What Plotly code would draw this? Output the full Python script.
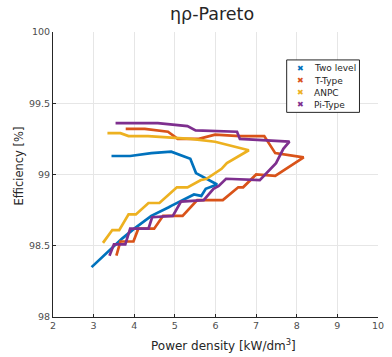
import plotly.graph_objects as go

# Data
two_level_x = [2.95, 3.3, 3.7, 4.0, 4.42, 4.85, 4.91, 5.47, 5.65, 5.76, 6.04, 5.52, 5.38, 4.91, 4.42, 3.90, 3.44]
two_level_y = [98.35, 98.44, 98.55, 98.62, 98.71, 98.77, 98.78, 98.86, 98.85, 98.90, 98.93, 99.01, 99.11, 99.16, 99.15, 99.13, 99.13]

t_type_x = [3.56, 3.66, 3.98, 4.10, 4.49, 4.71, 5.19, 5.55, 6.18, 6.56, 6.68, 7.00, 7.47, 8.17, 7.47, 7.20, 6.60, 5.99, 5.59, 5.07, 4.83, 4.26, 3.79]
t_type_y = [98.43, 98.53, 98.53, 98.62, 98.62, 98.71, 98.71, 98.82, 98.82, 98.91, 98.91, 99.00, 98.99, 99.12, 99.15, 99.27, 99.27, 99.28, 99.25, 99.25, 99.30, 99.32, 99.32]

anpc_x = [3.23, 3.46, 3.63, 3.86, 4.04, 4.35, 4.62, 5.05, 5.31, 5.63, 5.78, 6.15, 6.28, 6.82, 5.99, 5.39, 4.34, 3.86, 3.66, 3.34]
anpc_y = [98.52, 98.61, 98.61, 98.72, 98.72, 98.80, 98.80, 98.91, 98.91, 98.96, 98.97, 99.04, 99.08, 99.17, 99.23, 99.25, 99.27, 99.27, 99.29, 99.29]

pi_type_x = [3.39, 3.50, 3.78, 3.90, 4.35, 4.44, 4.95, 5.15, 5.71, 5.95, 6.08, 6.26, 7.09, 7.49, 7.67, 7.82, 6.60, 6.53, 5.51, 5.31, 4.58, 3.54]
pi_type_y = [98.43, 98.51, 98.51, 98.62, 98.62, 98.70, 98.71, 98.81, 98.82, 98.90, 98.92, 98.97, 98.96, 99.08, 99.18, 99.23, 99.25, 99.30, 99.31, 99.34, 99.36, 99.36]

names = ["Two level", "T-Type", "ANPC", "Pi-Type"]
colors = ["#0072BD", "#D95319", "#EDB120", "#7E2F8E"]
xs = [two_level_x, t_type_x, anpc_x, pi_type_x]
ys = [two_level_y, t_type_y, anpc_y, pi_type_y]

x_ticks = [2, 3, 4, 5, 6, 7, 8, 9, 10]
y_ticks = [98, 98.5, 99, 99.5, 100]
y_tick_text = ["98", "98.5", "99", "99.5", "100"]

title_text = "ηρ-Pareto"
x_title = "Power density [kW/dm<sup>3</sup>]"
y_title = "Efficiency [%]"

FONT = "DejaVu Sans"

fig = go.Figure()
for n, c, x, y in zip(names, colors, xs, ys):
    fig.add_trace(go.Scatter(x=x, y=y, mode="lines", line=dict(color=c, width=2.7),
                             showlegend=False, name=n))

# Manual compact legend (MATLAB style) in paper coordinates
leg_x0, leg_x1, leg_y0, leg_y1 = 0.719, 0.943, 0.718, 0.902
fig.add_shape(type="rect", xref="paper", yref="paper", x0=leg_x0, x1=leg_x1, y0=leg_y0, y1=leg_y1,
              line=dict(color="#262626", width=1), fillcolor="white", layer="above")
row_y = [0.872, 0.829, 0.787, 0.744]
for n, c, yy in zip(names, colors, row_y):
    fig.add_annotation(xref="paper", yref="paper", x=0.761, y=yy, text="✖", showarrow=False,
                       xanchor="center", yanchor="middle", font=dict(family=FONT, size=8, color=c))
    fig.add_annotation(xref="paper", yref="paper", x=0.798, y=yy, text=n, showarrow=False,
                       xanchor="left", yanchor="middle", font=dict(family=FONT, size=9, color="#262626"))

# Axis titles (placed like the MATLAB original)
fig.add_annotation(xref="paper", yref="paper", x=0.524, y=-0.098, text=x_title, showarrow=False,
                   xanchor="center", yanchor="middle", font=dict(family=FONT, size=12, color="#262626"))
fig.add_annotation(xref="paper", yref="paper", x=-0.106, y=0.53, text=y_title, showarrow=False,
                   textangle=-90, xanchor="center", yanchor="middle",
                   font=dict(family=FONT, size=11.5, color="#262626"))

fig.update_layout(
    width=392, height=357,
    margin=dict(l=53, r=8, t=32, b=40),
    paper_bgcolor="white", plot_bgcolor="white",
    title=dict(text=title_text, x=0.541, xanchor="center", y=0.96, yanchor="middle",
               font=dict(family=FONT, size=17.5, color="#262626")),
    font=dict(family=FONT, color="#4d4d4d"),
    showlegend=False,
)
fig.update_xaxes(range=[2, 10], tickvals=x_ticks, ticks="inside", ticklen=3,
                 showline=True, linecolor="#262626", linewidth=1, tickcolor="#262626",
                 showgrid=True, gridcolor="#e6e6e6", zeroline=False,
                 tickfont=dict(family=FONT, size=9.5, color="#4d4d4d"))
fig.update_yaxes(range=[98, 100], tickvals=y_ticks, ticktext=y_tick_text, ticks="inside", ticklen=3,
                 showline=True, linecolor="#262626", linewidth=1, tickcolor="#262626",
                 showgrid=True, gridcolor="#e6e6e6", zeroline=False,
                 tickfont=dict(family=FONT, size=9.5, color="#4d4d4d"))

fig.write_html("out.html")
